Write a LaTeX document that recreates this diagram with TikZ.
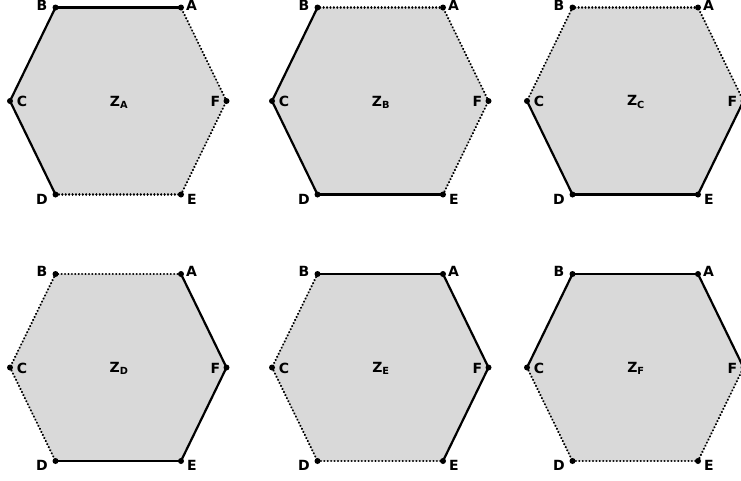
\documentclass[tikz,border=0pt]{standalone}
\usepackage{fontspec}
\newfontfamily\lblfont{DejaVu Sans}
\tikzset{
  sol/.style={line width=2.2pt, line cap=round},
  dot/.style={line width=2.4pt, line cap=round, dash pattern=on 0.01pt off 3.4pt},
  vdot/.style={circle, fill=black, inner sep=0pt, minimum size=6pt},
  lbl/.style={font=\lblfont\bfseries\fontsize{14}{16}\selectfont, inner sep=0pt},
  hexfill/.style={fill=black!15, draw=none},
}
\begin{document}
\begin{tikzpicture}[x=1pt,y=-1pt]
\useasboundingbox (0,0) rectangle (741,480);
\clip (0,0) rectangle (741,480);
\foreach \h/\ox/\oy/\sAB/\sBC/\sCD/\sDE/\sEF/\sFA in {
  A/0/0/sol/sol/sol/dot/dot/dot,
  B/262/0/dot/sol/sol/sol/dot/dot,
  C/517/0/dot/dot/sol/sol/sol/dot,
  D/0/266.5/dot/dot/dot/sol/sol/sol,
  E/262/266.5/sol/dot/dot/dot/sol/sol,
  F/517/266.5/sol/sol/dot/dot/dot/sol}{
  \coordinate (\h-A) at (\ox+181,\oy+7.5);
  \coordinate (\h-B) at (\ox+55.5,\oy+7.5);
  \coordinate (\h-C) at (\ox+10,\oy+101);
  \coordinate (\h-D) at (\ox+55.5,\oy+194.5);
  \coordinate (\h-E) at (\ox+181,\oy+194.5);
  \coordinate (\h-F) at (\ox+226.5,\oy+101);
  \fill[hexfill] (\h-A) -- (\h-B) -- (\h-C) -- (\h-D) -- (\h-E) -- (\h-F) -- cycle;
  \draw[\sAB] (\h-A) -- (\h-B);
  \draw[\sBC] (\h-B) -- (\h-C);
  \draw[\sCD] (\h-C) -- (\h-D);
  \draw[\sDE] (\h-D) -- (\h-E);
  \draw[\sEF] (\h-E) -- (\h-F);
  \draw[\sFA] (\h-F) -- (\h-A);
  \foreach \v in {A,B,C,D,E,F}{
    \node[vdot] (\h-dot\v) at (\h-\v) {};
  }
  \node[lbl] (\h-lA) at (\ox+191.5,\oy+5) {A};
  \node[lbl] (\h-lB) at (\ox+42,\oy+5) {B};
  \node[lbl] (\h-lC) at (\ox+22,\oy+101.5) {C};
  \node[lbl] (\h-lD) at (\ox+42,\oy+199) {D};
  \node[lbl] (\h-lE) at (\ox+192,\oy+199) {E};
  \node[lbl] (\h-lF) at (\ox+215.5,\oy+101.5) {F};
  \node[lbl] (\h-Z) at (\ox+119,\oy+102) {Z\textsubscript{\h}};
}
\end{tikzpicture}
\end{document}
